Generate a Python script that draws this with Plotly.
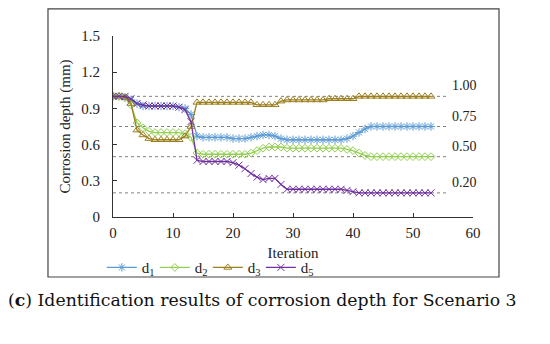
import plotly.graph_objects as go

iterations = list(range(54))

d1 = [1.00, 1.00, 0.99, 0.97, 0.94, 0.92, 0.92, 0.92, 0.92, 0.92, 0.92, 0.91, 0.90, 0.85,
      0.67, 0.66, 0.66, 0.66, 0.66, 0.66, 0.65, 0.65, 0.65, 0.66, 0.67, 0.68, 0.68, 0.67,
      0.65, 0.64, 0.64, 0.64, 0.64, 0.64, 0.64, 0.64, 0.64, 0.64, 0.64, 0.65, 0.67, 0.70,
      0.73, 0.75, 0.75, 0.75, 0.75, 0.75, 0.75, 0.75, 0.75, 0.75, 0.75, 0.75]
d2 = [1.00, 1.00, 0.99, 0.93, 0.78, 0.74, 0.71, 0.70, 0.70, 0.70, 0.70, 0.70, 0.69, 0.66,
      0.53, 0.52, 0.52, 0.52, 0.52, 0.52, 0.52, 0.52, 0.52, 0.53, 0.55, 0.57, 0.58, 0.58,
      0.58, 0.57, 0.57, 0.57, 0.57, 0.57, 0.57, 0.57, 0.57, 0.57, 0.57, 0.56, 0.55, 0.53,
      0.51, 0.50, 0.50, 0.50, 0.50, 0.50, 0.50, 0.50, 0.50, 0.50, 0.50, 0.50]
d3 = [1.00, 1.00, 0.99, 0.94, 0.72, 0.68, 0.65, 0.64, 0.64, 0.64, 0.64, 0.64, 0.67, 0.75,
      0.95, 0.95, 0.95, 0.95, 0.95, 0.95, 0.95, 0.95, 0.95, 0.95, 0.93, 0.93, 0.93, 0.93,
      0.96, 0.97, 0.97, 0.97, 0.97, 0.97, 0.97, 0.97, 0.98, 0.98, 0.98, 0.98, 0.98, 1.00,
      1.00, 1.00, 1.00, 1.00, 1.00, 1.00, 1.00, 1.00, 1.00, 1.00, 1.00, 1.00]
d5 = [1.00, 1.00, 1.00, 0.98, 0.94, 0.93, 0.92, 0.92, 0.92, 0.92, 0.92, 0.91, 0.89, 0.79,
      0.47, 0.46, 0.46, 0.46, 0.46, 0.46, 0.45, 0.43, 0.40, 0.36, 0.33, 0.31, 0.32, 0.32,
      0.27, 0.23, 0.23, 0.23, 0.23, 0.23, 0.23, 0.23, 0.23, 0.23, 0.23, 0.22, 0.21, 0.20,
      0.20, 0.20, 0.20, 0.20, 0.20, 0.20, 0.20, 0.20, 0.20, 0.20, 0.20, 0.20]

ref_levels = [1.00, 0.75, 0.50, 0.20]
ref_labels = ["1.00", "0.75", "0.50", "0.20"]
ref_end = 55.7

series_names = ["d<sub>1</sub>", "d<sub>2</sub>", "d<sub>3</sub>", "d<sub>5</sub>"]
series_values = [d1, d2, d3, d5]
series_colors = ["#5B9BD5", "#92D050", "#9C7F1E", "#7030A0"]
series_symbols = ["asterisk-open", "diamond-open", "triangle-up-open", "x-thin-open"]
series_sizes = [7, 6, 7, 7]

FONT = "Liberation Serif"

fig = go.Figure()

for name, vals, col, sym, sz in zip(series_names, series_values, series_colors,
                                    series_symbols, series_sizes):
    fig.add_trace(go.Scatter(
        x=iterations, y=vals, name=name, mode="lines+markers",
        line=dict(color=col, width=1.3),
        marker=dict(symbol=sym, size=sz, color=col, line=dict(color=col, width=1)),
    ))

for lvl, lab in zip(ref_levels, ref_labels):
    fig.add_shape(type="line", xref="x", yref="y", x0=0, x1=ref_end, y0=lvl, y1=lvl,
                  line=dict(color="#808080", width=1, dash="3px,3px"), layer="below")
    fig.add_annotation(x=ref_end, y=lvl, xref="x", yref="y", text=lab, showarrow=False,
                       xanchor="left", yanchor="bottom", xshift=3, yshift=1,
                       font=dict(family=FONT, size=14, color="#222"))

# outer frame
fig.add_shape(type="rect", xref="paper", yref="paper",
              x0=-0.1806, x1=1.0722, y0=-0.3315, y1=1.150,
              line=dict(color="#444", width=1.2))

fig.add_annotation(xref="paper", yref="paper", x=0.416, y=-0.458,
                   text="(<b>c</b>) Identification results of corrosion depth for Scenario 3",
                   showarrow=False, xanchor="center", yanchor="middle",
                   font=dict(family="DejaVu Serif", size=17.3, color="#111"))

fig.update_layout(
    width=542, height=336,
    margin=dict(l=105, r=77, t=28, b=127),
    paper_bgcolor="white", plot_bgcolor="white",
    font=dict(family=FONT, size=15, color="#222"),
    showlegend=True,
    legend=dict(orientation="h", x=-0.031, y=-0.28, xanchor="left", yanchor="middle",
                font=dict(family=FONT, size=15), bgcolor="rgba(0,0,0,0)",
                itemwidth=30, tracegroupgap=0, entrywidth=8, entrywidthmode="pixels"),
    xaxis=dict(range=[0, 60], tickvals=[0, 10, 20, 30, 40, 50, 60],
               showline=True, linecolor="#333", linewidth=1,
               ticks="inside", ticklen=4, tickcolor="#333",
               showgrid=False, zeroline=False, ticklabelstandoff=2,
               title=dict(text="Iteration", font=dict(family=FONT, size=15), standoff=7),
               tickfont=dict(family=FONT, size=15)),
    yaxis=dict(range=[0, 1.5], tickvals=[0, 0.3, 0.6, 0.9, 1.2, 1.5],
               ticktext=["0", "0.3", "0.6", "0.9", "1.2", "1.5"],
               showline=True, linecolor="#333", linewidth=1,
               ticks="inside", ticklen=4, tickcolor="#333",
               showgrid=False, zeroline=False, ticklabelstandoff=9,
               title=dict(text="Corrosion depth (mm)", font=dict(family=FONT, size=15), standoff=7),
               tickfont=dict(family=FONT, size=15)),
)

fig.write_html("out.html")
